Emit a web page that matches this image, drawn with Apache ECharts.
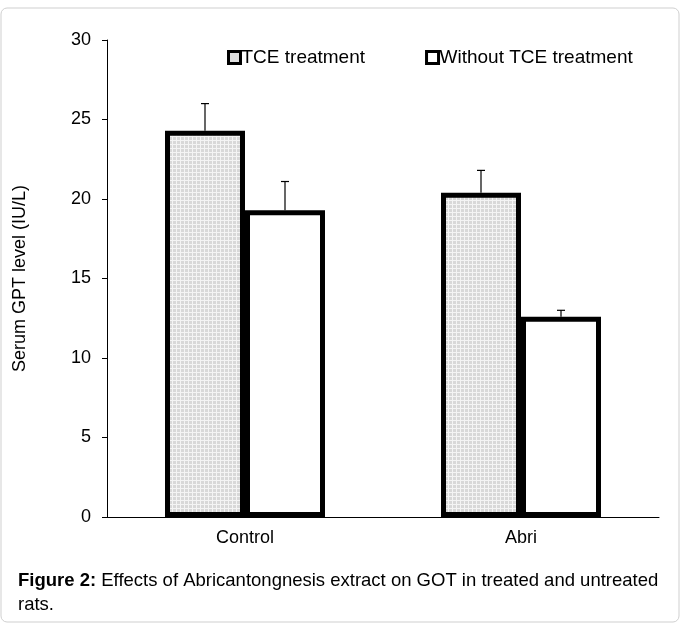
<!DOCTYPE html>
<html><head><meta charset="utf-8">
<script src="https://cdn.jsdelivr.net/npm/echarts@6/dist/echarts.min.js"></script>
<style>body{margin:0;background:#fff}#c{width:681px;height:624px}</style>
</head><body><div id="c"></div>
<script>
var categories = ['Control', 'Abri'];
var tceValues = [24.3, 20.4];
var tceErrors = [26.0, 21.8];
var withoutValues = [19.3, 12.6];
var withoutErrors = [21.1, 13.0];
var yTicks = [0, 5, 10, 15, 20, 25, 30];

// grey grid pattern for the TCE bars
var pc = document.createElement('canvas');
pc.width = 8; pc.height = 8;
var g = pc.getContext('2d');
g.fillStyle = '#d8d8d8'; g.fillRect(0, 0, 8, 8);
g.fillStyle = '#f4f4f4';
g.fillRect(0, 0, 1, 8); g.fillRect(4, 0, 1, 8);
g.fillRect(0, 0, 8, 1); g.fillRect(0, 4, 8, 1);

var chart = echarts.init(document.getElementById('c'));
var font = 'Liberation Sans, Arial, sans-serif';

function errSeries(vals, errs, offset) {
  return {
    type: 'custom', z: 1, silent: true,
    data: vals.map(function (v, i) { return [i, v, errs[i]]; }),
    renderItem: function (params, api) {
      var base = api.coord([api.value(0), api.value(1)]);
      var top = api.coord([api.value(0), api.value(2)]);
      var x = base[0] + offset;
      return { type: 'group', children: [
        { type: 'line', shape: { x1: x, y1: base[1], x2: x, y2: top[1] }, style: { stroke: '#000', lineWidth: 1.2 } },
        { type: 'line', shape: { x1: x - 4, y1: top[1], x2: x + 4, y2: top[1] }, style: { stroke: '#000', lineWidth: 1.2 } }
      ] };
    }
  };
}

chart.setOption({
  animation: false,
  grid: { left: 107, right: 22, top: 40, bottom: 107 },
  legend: {
    top: 43, left: 222, itemGap: 60, itemWidth: 12, itemHeight: 12,
    textStyle: { fontFamily: font, fontSize: 19, color: '#000', padding: [0, 0, 0, -4] },
    data: [
      { name: 'TCE treatment', icon: 'rect', itemStyle: { color: '#e0e0e0', borderColor: '#000', borderWidth: 3 } },
      { name: 'Without TCE treatment', icon: 'rect', itemStyle: { color: '#fff', borderColor: '#000', borderWidth: 3 } }
    ]
  },
  xAxis: {
    type: 'category', data: categories,
    axisLine: { lineStyle: { color: '#000' } },
    axisTick: { length: 5, lineStyle: { color: '#000' } },
    axisLabel: { fontFamily: font, fontSize: 18, color: '#000', margin: 12 }
  },
  yAxis: {
    type: 'value', min: 0, max: 30, interval: 5,
    name: 'Serum GPT level (IU/L)', nameLocation: 'middle', nameGap: 78,
    nameTextStyle: { fontFamily: font, fontSize: 18, color: '#000' },
    axisLine: { show: true, lineStyle: { color: '#000' } },
    axisTick: { show: true, length: 5, lineStyle: { color: '#000' } },
    splitLine: { show: false },
    axisLabel: { fontFamily: font, fontSize: 18, color: '#000', margin: 16,
      formatter: function (v) { return yTicks.indexOf(v) >= 0 ? v : ''; } }
  },
  series: [
    { name: 'TCE treatment', type: 'bar', data: tceValues, barWidth: 80, barGap: '0%', z: 2,
      itemStyle: { color: { image: pc, repeat: 'repeat' }, borderColor: '#000', borderWidth: 5 } },
    { name: 'Without TCE treatment', type: 'bar', data: withoutValues, barWidth: 80, z: 2,
      itemStyle: { color: '#fff', borderColor: '#000', borderWidth: 5 } },
    errSeries(tceValues, tceErrors, -40),
    errSeries(withoutValues, withoutErrors, 40)
  ],
  graphic: [
    { type: 'rect', shape: { x: 1, y: 8, width: 678, height: 614, r: 6 }, style: { fill: 'none', stroke: '#cfcfcf', lineWidth: 1 } },
    { type: 'text', left: 18, top: 569, style: { rich: { b: { fontWeight: 'bold', fontFamily: font, fontSize: 18.5 }, n: { fontFamily: font, fontSize: 18.5 } },
      text: '{b|Figure 2:}{n| Effects of Abricantongnesis extract on GOT in treated and untreated}\n{n|rats.}', fill: '#000', lineHeight: 24 } }
  ]
});
</script></body></html>
